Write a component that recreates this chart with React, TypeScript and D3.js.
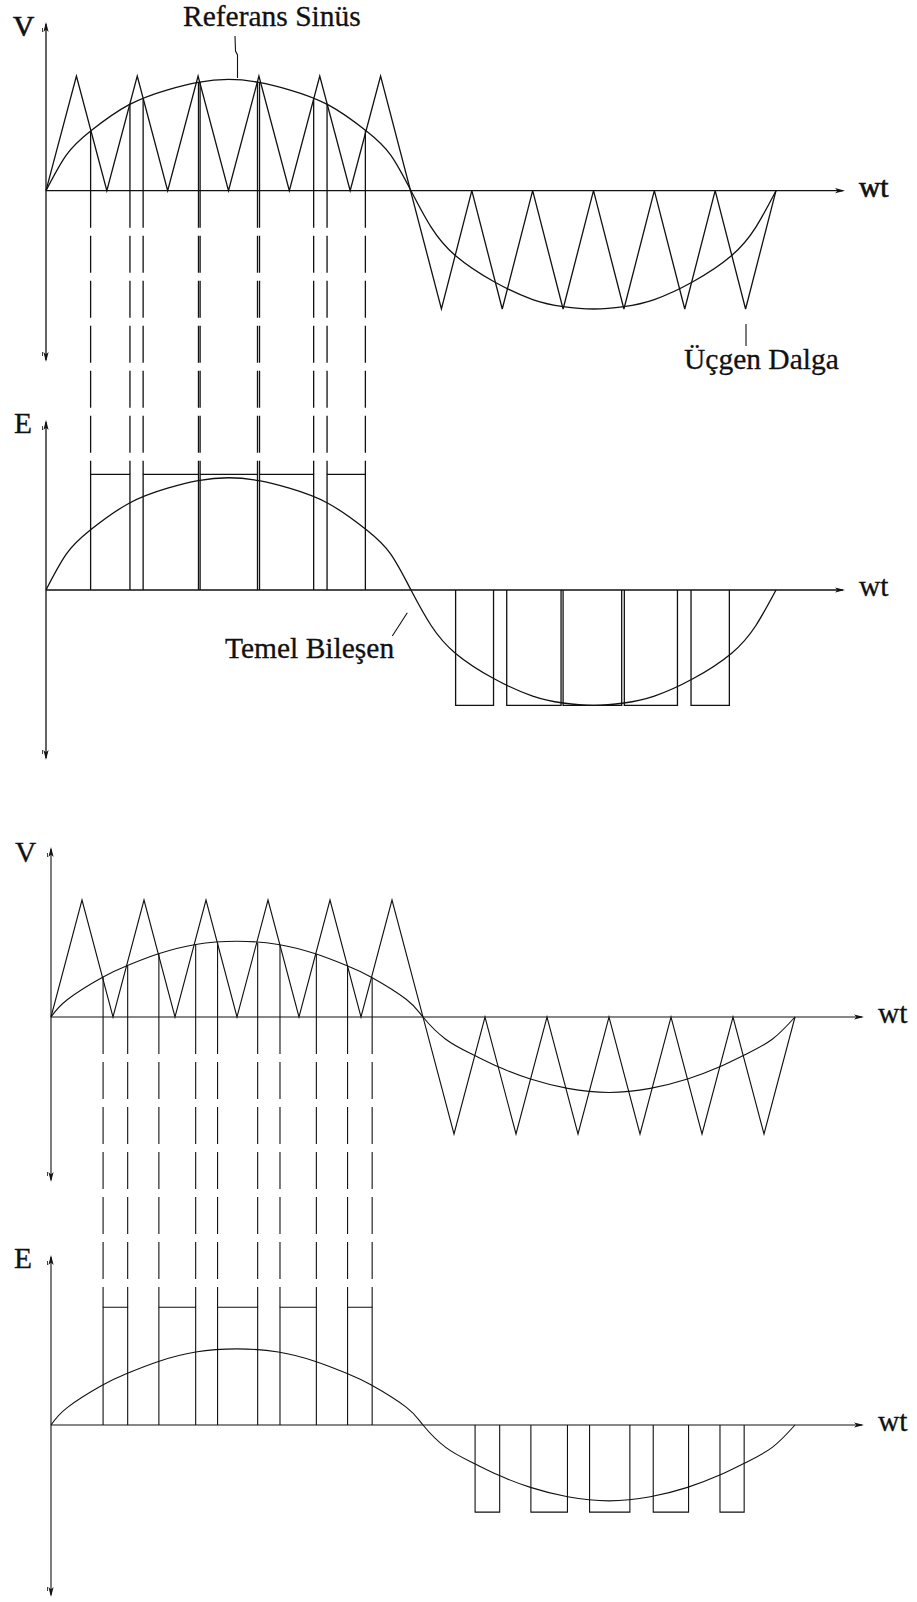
import React from "react";
import * as d3 from "d3";

// ---------- data (angles in degrees, values normalised to the carrier peak) ----------
// reference / fundamental curve, case A
const SINE_A_DEG = [0, 10, 22, 41, 60, 75, 90, 105, 120, 139, 158, 170, 180, 190, 202, 221, 240, 255, 270, 285, 300, 319, 338, 350, 360];
const SINE_A_VAL = [0, 0.31, 0.52, 0.75, 0.88, 0.945, 0.97, 0.945, 0.88, 0.75, 0.52, 0.31, 0, -0.31, -0.55, -0.77, -0.92, -0.98, -1, -0.98, -0.92, -0.77, -0.55, -0.31, 0];
// reference / fundamental curve, case B
const SINE_B_DEG = [0, 8, 25, 37, 52, 70, 90, 110, 128, 143, 155, 172, 180, 191, 204, 217, 232, 250, 270, 290, 308, 323, 336, 349, 360];
const SINE_B_VAL = [0, 0.15, 0.34, 0.44, 0.54, 0.62, 0.647, 0.62, 0.54, 0.44, 0.34, 0.15, 0, -0.19, -0.32, -0.43, -0.53, -0.61, -0.645, -0.61, -0.53, -0.43, -0.32, -0.19, 0];

// triangular carrier
const TRI_DEG = [0, 15, 30, 45, 60, 75, 90, 105, 120, 135, 150, 165, 195, 210, 225, 240, 255, 270, 285, 300, 315, 330, 345, 360];
const TRI_VAL = [0, 1, 0, 1, 0, 1, 0, 1, 0, 1, 0, 1, -1, 0, -1, 0, -1, 0, -1, 0, -1, 0, -1, 0];

// pulse edges (degrees)
const PULSES_A_POS = [[22, 41.4], [47.9, 75.2], [76, 104.3], [105.3, 132], [138.6, 157.5]];
const PULSES_A_NEG = [[202, 220.7], [227.2, 254], [255, 283.9], [285.2, 311.4], [318.1, 337]];
const PULSES_B_POS = [[25.2, 37.1], [52.2, 70], [80.6, 100], [110.8, 128.4], [143.5, 155.4]];
const PULSES_B_NEG = [[205.2, 217.1], [232.2, 249.9], [260.6, 280.1], [291.4, 308.5], [323.7, 335.4]];
const PULSE_LEVEL_A = [1, -1];
const PULSE_LEVEL_B = [1, -0.74];

const AXIS_V = "V";
const AXIS_E = "E";
const AXIS_T = "wt";
const LABEL_SINE = "Referans Sinüs";
const LABEL_TRI = "Üçgen Dalga";
const LABEL_FUND = "Temel Bileşen";

// ---------- layout ----------
const W = 917;
const H = 1602;
const INK = "#111";
const FONT = "'Liberation Serif', 'DejaVu Serif', serif";
const FS = 29.5;

const xA = d3.scaleLinear().domain([0, 360]).range([46, 776]);
const xB = d3.scaleLinear().domain([0, 360]).range([51, 795]);
const y1 = d3.scaleLinear().domain([-1, 0, 1]).range([309, 190.7, 76]);
const y2 = d3.scaleLinear().domain([-1, 0, 1]).range([705.3, 590, 474.3]);
const y3 = d3.scaleLinear().domain([-1, 0, 1]).range([1134, 1017, 900]);
const y4 = d3.scaleLinear().domain([-1, 0, 1]).range([1542.7, 1425, 1307.3]);

const shapeA = d3.scaleLinear().domain(SINE_A_DEG).range(SINE_A_VAL);
const shapeB = d3.scaleLinear().domain(SINE_B_DEG).range(SINE_B_VAL);

function sinePath(x: any, y: any, degs: number[], vals: number[]) {
  const pts = degs.map((d, i) => [x(d), y(vals[i])] as [number, number]);
  return d3.line().curve(d3.curveNatural)(pts) || "";
}
function triPath(x: any, y: any) {
  const pts = TRI_DEG.map((d, i) => [x(d), y(TRI_VAL[i])] as [number, number]);
  return d3.line()(pts) || "";
}

function ArrowUp({ x, y }: { x: number; y: number }) {
  return (
    <g>
      <path d={`M${x},${y} L${x - 2.6},${y + 10} L${x},${y + 7.5} L${x + 2.6},${y + 10} Z`} fill={INK} />
      <line x1={x - 3.5} y1={y + 6} x2={x - 3.5} y2={y + 10} stroke={INK} strokeWidth={0.8} />
    </g>
  );
}
function ArrowDown({ x, y }: { x: number; y: number }) {
  return (
    <g>
      <path d={`M${x},${y} L${x - 2.6},${y - 10} L${x},${y - 7.5} L${x + 2.6},${y - 10} Z`} fill={INK} />
      <line x1={x - 3.5} y1={y - 6} x2={x - 3.5} y2={y - 10} stroke={INK} strokeWidth={0.8} />
    </g>
  );
}
function ArrowRight({ x, y }: { x: number; y: number }) {
  return <path d={`M${x},${y} L${x - 10},${y - 2.6} L${x - 7.5},${y} L${x - 10},${y + 2.6} Z`} fill={INK} />;
}

function Label({ x, y, children, heavy }: any) {
  return (
    <text x={x} y={y} fontFamily={FONT} fontSize={FS} fill={INK} stroke={INK} strokeWidth={heavy ? 0.7 : 0.3}>
      {children}
    </text>
  );
}

function Axes({ x0, top, bottom, y0, right, label, labelX, labelY, heavy, sw }: any) {
  return (
    <g>
      <line x1={x0} y1={top + 2} x2={x0} y2={bottom - 2} stroke={INK} strokeWidth={sw} />
      <ArrowUp x={x0} y={top} />
      <ArrowDown x={x0} y={bottom} />
      <line x1={x0} y1={y0} x2={right - 2} y2={y0} stroke={INK} strokeWidth={sw} />
      <ArrowRight x={right} y={y0} />
      <Label x={labelX} y={labelY} heavy={heavy}>{label}</Label>
      <Label x={right + 14} y={y0 + 6} heavy={heavy}>{AXIS_T}</Label>
    </g>
  );
}

function Pulses({ pulses, x, y, level, sw }: any) {
  return (
    <g fill="none" stroke={INK} strokeWidth={sw}>
      {pulses.map((p: number[], i: number) => (
        <path key={i} d={`M${x(p[0])},${y(0)} V${y(level)} H${x(p[1])} V${y(0)}`} />
      ))}
    </g>
  );
}

function Drops({ pulses, x, yV, yE, shape, sw }: any) {
  const edges: number[] = [];
  pulses.forEach((p: number[]) => { edges.push(p[0], p[1]); });
  return (
    <g stroke={INK} strokeWidth={sw}>
      {edges.map((d, i) => (
        <g key={i}>
          <line x1={x(d)} y1={yV(shape(d))} x2={x(d)} y2={yV(0)} />
          <line x1={x(d)} y1={yV(0)} x2={x(d)} y2={yE(1)} strokeDasharray="37,8" />
        </g>
      ))}
    </g>
  );
}

export default function App() {
  const swA = 1.3;
  const swB = 1.1;
  return (
    <svg width={W} height={H} viewBox={`0 0 ${W} ${H}`} style={{ position: "absolute", left: 0, top: 0, background: "#fff" }}>
      <rect x={0} y={0} width={W} height={H} fill="#fff" />

      {/* Case A : carrier and reference */}
      <Axes x0={46} top={22} bottom={362} y0={y1(0)} right={845} label={AXIS_V} labelX={13} labelY={36} heavy sw={swA} />
      <path d={triPath(xA, y1)} fill="none" stroke={INK} strokeWidth={swA} />
      <path d={sinePath(xA, y1, SINE_A_DEG, SINE_A_VAL)} fill="none" stroke={INK} strokeWidth={swA} />
      <Drops pulses={PULSES_A_POS} x={xA} yV={y1} yE={y2} shape={shapeA} sw={swA} />

      {/* Case A : output */}
      <Axes x0={46} top={420} bottom={760} y0={y2(0)} right={845} label={AXIS_E} labelX={14} labelY={433} heavy={false} sw={swA} />
      <Pulses pulses={PULSES_A_POS} x={xA} y={y2} level={PULSE_LEVEL_A[0]} sw={swA} />
      <Pulses pulses={PULSES_A_NEG} x={xA} y={y2} level={PULSE_LEVEL_A[1]} sw={swA} />
      <path d={sinePath(xA, y2, SINE_A_DEG, SINE_A_VAL)} fill="none" stroke={INK} strokeWidth={swA} />

      <Label x={183} y={26}>{LABEL_SINE}</Label>
      <path d="M235,36 L235.5,51 L237.5,55 L237.5,78" fill="none" stroke={INK} strokeWidth={1.1} />
      <Label x={684} y={369}>{LABEL_TRI}</Label>
      <line x1={746} y1={324} x2={746} y2={346} stroke={INK} strokeWidth={1.1} />
      <Label x={225} y={658}>{LABEL_FUND}</Label>
      <line x1={407.3} y1={612.7} x2={392.3} y2={636} stroke={INK} strokeWidth={1.1} />

      {/* Case B : carrier and reference */}
      <Axes x0={51} top={847} bottom={1182} y0={y3(0)} right={864} label={AXIS_V} labelX={15} labelY={862} heavy={false} sw={swB} />
      <path d={triPath(xB, y3)} fill="none" stroke={INK} strokeWidth={swB} />
      <path d={sinePath(xB, y3, SINE_B_DEG, SINE_B_VAL)} fill="none" stroke={INK} strokeWidth={swB} />
      <Drops pulses={PULSES_B_POS} x={xB} yV={y3} yE={y4} shape={shapeB} sw={swB} />

      {/* Case B : output */}
      <Axes x0={51} top={1255} bottom={1597} y0={y4(0)} right={864} label={AXIS_E} labelX={14} labelY={1268} heavy={false} sw={swB} />
      <Pulses pulses={PULSES_B_POS} x={xB} y={y4} level={PULSE_LEVEL_B[0]} sw={swB} />
      <Pulses pulses={PULSES_B_NEG} x={xB} y={y4} level={PULSE_LEVEL_B[1]} sw={swB} />
      <path d={sinePath(xB, y4, SINE_B_DEG, SINE_B_VAL)} fill="none" stroke={INK} strokeWidth={swB} />
    </svg>
  );
}
